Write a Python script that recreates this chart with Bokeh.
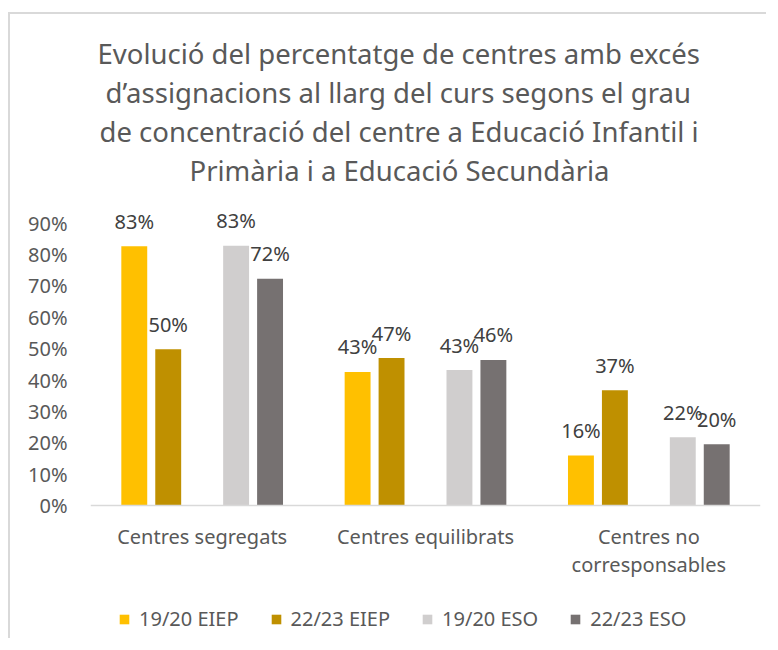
from bokeh.plotting import figure
from bokeh.models import ColumnDataSource, FactorRange, FixedTicker, Legend, LegendItem, Title
from bokeh.transform import dodge
from bokeh.core.properties import value
from bokeh.embed import file_html
from bokeh.resources import INLINE

# ---- data ----
categories = ["Centres segregats", "Centres equilibrats", "Centres no\ncorresponsables"]
series_names = ["19/20 EIEP", "22/23 EIEP", "19/20 ESO", "22/23 ESO"]
eiep_1920 = [0.826, 0.426, 0.160]
eiep_2223 = [0.498, 0.470, 0.368]
eso_1920 = [0.828, 0.432, 0.218]
eso_2223 = [0.723, 0.464, 0.196]
y_ticks = [0, 0.1, 0.2, 0.3, 0.4, 0.5, 0.6, 0.7, 0.8, 0.9]
y_tick_labels = ["0%", "10%", "20%", "30%", "40%", "50%", "60%", "70%", "80%", "90%"]
title_lines = [
    "Evolució del percentatge de centres amb excés",
    "d\u2019assignacions al llarg del curs segons el grau",
    "de concentració del centre a Educació Infantil i",
    "Primària i a Educació Secundària",
]

# ---- style ----
FONT = "Noto Sans"
TXT = "#595959"
colors = ["#FFC000", "#BF9000", "#D0CECE", "#767171"]
offsets = [-0.304, -0.152, 0.152, 0.304]
series = [eiep_1920, eiep_2223, eso_1920, eso_2223]
# left offsets of the title lines (centres the block a little left of the plot frame)
title_offsets = [7, 15, 9, 99]

data = {"cat": categories}
for i, s in enumerate(series):
    data[f"s{i}"] = s
    data[f"l{i}"] = [f"{round(v * 100):.0f}%" for v in s]
src = ColumnDataSource(data)

p = figure(
    width=758, height=626,
    x_range=FactorRange(*categories), y_range=(-0.41, 1.01),
    output_backend="svg", toolbar_location=None, title=None,
    min_border_left=80, min_border_right=8, min_border_top=174, min_border_bottom=6,
)
p.styles = {"border-left": "2px solid #D9D9D9", "border-top": "2px solid #D9D9D9",
            "margin-top": "12px", "margin-left": "8px"}
p.outline_line_color = None
p.xgrid.grid_line_color = None
p.ygrid.grid_line_color = None

n = len(title_lines)
for k in range(n - 1, -1, -1):
    p.add_layout(Title(text=title_lines[k], align="left", text_font=FONT, text_font_size="27.5px",
                       text_font_style="normal", text_color=TXT, offset=title_offsets[k],
                       standoff=0), "above")

renderers = []
for i in range(4):
    r = p.vbar(x=dodge("cat", offsets[i], range=p.x_range), top=f"s{i}", width=0.116,
               source=src, fill_color=colors[i], line_color=None)
    renderers.append(r)
    p.text(x=dodge("cat", offsets[i], range=p.x_range), y=f"s{i}", text=f"l{i}",
           source=src, y_offset=-25, text_align="center", text_baseline="middle",
           text_font=value(FONT), text_font_size="20px", text_color="#404040")

xa = p.xaxis[0]
xa.fixed_location = 0
xa.axis_line_color = "#D9D9D9"
xa.axis_line_width = 1.5
xa.major_tick_line_color = None
xa.minor_tick_line_color = None
xa.major_label_text_font = FONT
xa.major_label_text_font_size = "20px"
xa.major_label_text_color = TXT
xa.major_label_text_line_height = 1.05
xa.major_label_standoff = 11

ya = p.yaxis[0]
ya.ticker = FixedTicker(ticks=y_ticks)
ya.major_label_overrides = dict(zip(y_ticks, y_tick_labels))
ya.axis_line_color = None
ya.major_tick_line_color = None
ya.minor_tick_line_color = None
ya.major_tick_out = 0
ya.major_label_text_font = FONT
ya.major_label_text_font_size = "20px"
ya.major_label_text_color = TXT
ya.major_label_standoff = 23

legend = Legend(
    items=[LegendItem(label=series_names[i], renderers=[renderers[i]]) for i in range(4)],
    orientation="horizontal", location=(28, 2),
    glyph_width=12, glyph_height=12, label_standoff=9, spacing=31,
    padding=0, margin=0, border_line_color=None, background_fill_alpha=0,
    label_text_font=FONT, label_text_font_size="20px", label_text_color=TXT, label_height=24,
)
p.add_layout(legend)

open("out.html", "w").write(file_html(p, INLINE))
